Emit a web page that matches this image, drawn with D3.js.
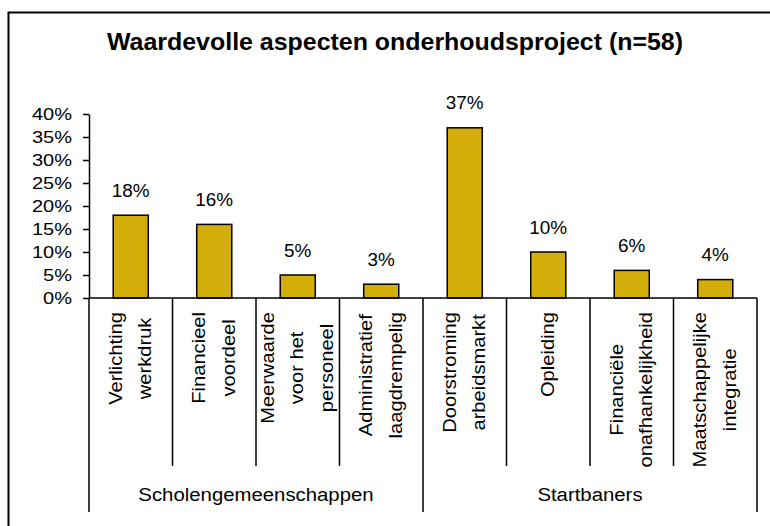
<!DOCTYPE html>
<html>
<head>
<meta charset="utf-8">
<script src="https://cdn.jsdelivr.net/npm/d3@7"></script>
<style>
  body { margin: 0; background: #fff; }
  text { font-family: "Liberation Sans", Arial, sans-serif; fill: #000; }
</style>
</head>
<body>
<script>
// Gegevens uit de grafiek
const labelLines = [
  ["Verlichting", "werkdruk"],
  ["Financieel", "voordeel"],
  ["Meerwaarde", "voor het", "personeel"],
  ["Administratief", "laagdrempelig"],
  ["Doorstroming", "arbeidsmarkt"],
  ["Opleiding"],
  ["Financiële", "onafhankelijkheid"],
  ["Maatschappelijke", "integratie"]
];
const categories = labelLines.map(l => l.join(" "));
const values = [0.18, 0.16, 0.05, 0.03, 0.37, 0.10, 0.06, 0.04];
const groups = ["Scholengemeenschappen", "Startbaners"];
const groupOf = [0, 0, 0, 0, 1, 1, 1, 1];
const yTicks = [0, 0.05, 0.10, 0.15, 0.20, 0.25, 0.30, 0.35, 0.40];
const title = "Waardevolle aspecten onderhoudsproject (n=58)";

const width = 770, height = 526;
const barColor = "#D3AE0B";

const svg = d3.select("body")
  .append("svg")
  .attr("width", width)
  .attr("height", height);

// Kader rond de grafiek (loopt door buiten beeld)
svg.append("rect")
  .attr("x", 8.5)
  .attr("y", 12.5)
  .attr("width", 900)
  .attr("height", 700)
  .attr("fill", "none")
  .attr("stroke", "#000")
  .attr("stroke-width", 2);

// tekst iets breder maken (zoals in de Excel-grafiek)
function stretch(sel, k) {
  sel.each(function () {
    const len = this.getComputedTextLength();
    d3.select(this)
      .attr("textLength", len * k)
      .attr("lengthAdjust", "spacingAndGlyphs");
  });
}

// Titel
svg.append("text")
  .attr("x", 395)
  .attr("y", 50)
  .attr("text-anchor", "middle")
  .style("font-size", "24px")
  .style("font-weight", "bold")
  .attr("textLength", 576)
  .attr("lengthAdjust", "spacingAndGlyphs")
  .text(title);

// Schalen
const x = d3.scaleBand()
  .domain(categories)
  .range([89, 757]);

const y = d3.scaleLinear()
  .domain([0, 0.4])
  .range([298, 114]);

// Y-as
const yAxis = svg.append("g")
  .attr("transform", `translate(${x.range()[0]},0)`)
  .call(d3.axisLeft(y)
    .tickValues(yTicks)
    .tickFormat(d3.format(".0%"))
    .tickSize(6)
    .tickSizeOuter(0)
    .tickPadding(11));

yAxis.attr("font-size", null).attr("font-family", null);
yAxis.select(".domain").attr("stroke", "#000").attr("stroke-width", 1.5);
yAxis.selectAll(".tick line").attr("stroke", "#000").attr("stroke-width", 1.5);
yAxis.selectAll(".tick text")
  .style("font-size", "16px")
  .attr("dy", "0.36em")
  .call(stretch, 1.25);

// Staven
const barW = x.bandwidth() * 0.42;
svg.append("g")
  .selectAll("rect")
  .data(values)
  .join("rect")
  .attr("x", (d, i) => x(categories[i]) + (x.bandwidth() - barW) / 2)
  .attr("y", d => y(d))
  .attr("width", barW)
  .attr("height", d => y(0) - y(d))
  .attr("fill", barColor)
  .attr("stroke", "#000")
  .attr("stroke-width", 1.5);

// Waardelabels boven de staven
svg.append("g")
  .selectAll("text")
  .data(values)
  .join("text")
  .attr("x", (d, i) => x(categories[i]) + x.bandwidth() / 2)
  .attr("y", d => y(d) - 18.5)
  .attr("text-anchor", "middle")
  .style("font-size", "18px")
  .text(d => d3.format(".0%")(d))
  .call(stretch, 1.05);

// X-as lijn
svg.append("line")
  .attr("x1", x.range()[0])
  .attr("x2", x.range()[1])
  .attr("y1", y(0))
  .attr("y2", y(0))
  .attr("stroke", "#000")
  .attr("stroke-width", 1.5);

// Scheidingslijnen tussen categorieën (lang bij groepsgrens)
const bounds = categories.map(c => x(c)).concat([x.range()[1]]);
svg.append("g")
  .selectAll("line")
  .data(bounds)
  .join("line")
  .attr("x1", d => d)
  .attr("x2", d => d)
  .attr("y1", y(0))
  .attr("y2", (d, i) => (i === 0 || i === bounds.length - 1 || groupOf[i] !== groupOf[i - 1]) ? 512 : 466)
  .attr("stroke", "#000")
  .attr("stroke-width", 1.5);

// Categorielabels (90 graden gedraaid)
const lineGap = 29.5;
const labelTop = 312;
labelLines.forEach((lines, i) => {
  const cx = x(categories[i]) + x.bandwidth() / 2;
  const g = svg.append("g");
  const texts = g.selectAll("text")
    .data(lines)
    .join("text")
    .attr("text-anchor", "middle")
    .style("font-size", "17.5px")
    .text(d => d)
    .call(stretch, 1.15);
  let maxLen = 0;
  texts.each(function () { maxLen = Math.max(maxLen, +d3.select(this).attr("textLength")); });
  const cy = labelTop + maxLen / 2;
  texts.attr("transform", (d, j) => {
    const bx = cx + (j - (lines.length - 1) / 2) * lineGap + 5.5;
    return `translate(${bx},${cy}) rotate(-90)`;
  });
});

// Groepslabels
groups.forEach((name, gi) => {
  const idx = categories.filter((c, i) => groupOf[i] === gi);
  const x0 = x(idx[0]);
  const x1 = x(idx[idx.length - 1]) + x.bandwidth();
  svg.append("text")
    .attr("x", (x0 + x1) / 2)
    .attr("y", 501)
    .attr("text-anchor", "middle")
    .style("font-size", "18px")
    .text(name)
    .call(stretch, 1.13);
});
</script>
</body>
</html>
